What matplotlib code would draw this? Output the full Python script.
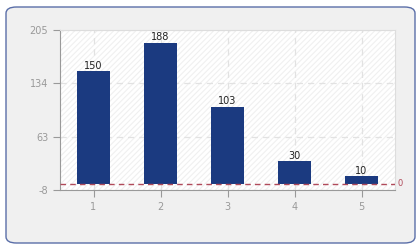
import numpy as np
import matplotlib.pyplot as plt
from matplotlib.patches import FancyBboxPatch

categories = [1, 2, 3, 4, 5]
values = [150, 188, 103, 30, 10]
y_ticks = [-8, 63, 134, 205]

plt.rcParams['hatch.color'] = '#f0f0f0'
plt.rcParams['hatch.linewidth'] = 0.8
plt.rcParams['axes.unicode_minus'] = False

fig = plt.figure(figsize=(4.2, 2.5), dpi=100)
fig.patch.set_facecolor('white')

# rounded outer panel
box = FancyBboxPatch((6 / 420, 7 / 250), 409 / 420, 236 / 250,
                     boxstyle='round,pad=0,rounding_size=0.025',
                     transform=fig.transFigure, facecolor='#f0f0f0',
                     edgecolor='#5a6ea8', linewidth=1.0, zorder=-5)
fig.patches.append(box)

ax = fig.add_axes([60 / 420, 1 - 190 / 250, 335 / 420, 160 / 250])
ax.set_zorder(1)
ax.set_facecolor('white')
ax.patch.set_hatch('//////')
ax.patch.set_edgecolor('#f0f0f0')
ax.patch.set_linewidth(0)

ax.set_xlim(0.5, 5.5)
ax.set_ylim(-8, 205)

ax.bar(categories, values, width=0.5, color='#1b3a80', zorder=3)
for x, v in zip(categories, values):
    ax.text(x, v + 1, str(v), ha='center', va='bottom', fontsize=7,
            color='#222222', zorder=4)

ax.axhline(0, color='#b04a5a', linestyle=(0, (4, 3)), linewidth=1, zorder=5)
ax.text(5.53, 0, '0', color='#b04a5a', fontsize=6, va='center', ha='left',
        transform=ax.transData, clip_on=False)

ax.set_xticks(categories)
ax.set_yticks(y_ticks)
ax.grid(True, color='#e2e2e2', linestyle=(0, (5, 4)), linewidth=0.9, zorder=0)
ax.set_axisbelow(True)

for side in ['left', 'bottom']:
    ax.spines[side].set_color('#999999')
for side in ['top', 'right']:
    ax.spines[side].set_color('#dddddd')
ax.tick_params(colors='#999999', labelsize=7, length=5, width=0.8,
               labelcolor='#999999')

fig.savefig('out.png', dpi=100)
